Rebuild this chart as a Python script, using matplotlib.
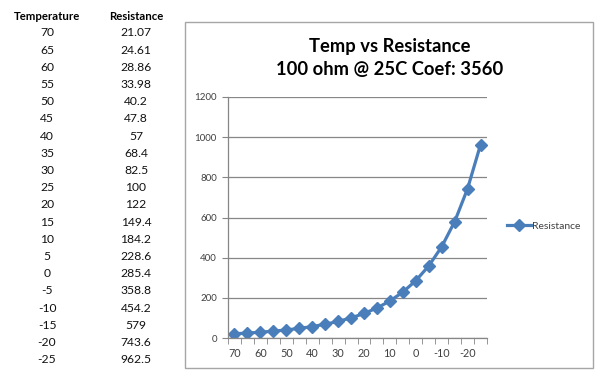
import matplotlib
matplotlib.use("Agg")
import matplotlib.pyplot as plt
from matplotlib.patches import Rectangle

temperature = [70, 65, 60, 55, 50, 45, 40, 35, 30, 25, 20, 15, 10, 5, 0, -5, -10, -15, -20, -25]
resistance_labels = ["21.07", "24.61", "28.86", "33.98", "40.2", "47.8", "57", "68.4", "82.5", "100",
                     "122", "149.4", "184.2", "228.6", "285.4", "358.8", "454.2", "579", "743.6", "962.5"]
resistance = [float(v) for v in resistance_labels]
y_ticks = [0, 200, 400, 600, 800, 1000, 1200]
title = "Temp vs Resistance\n100 ohm @ 25C Coef: 3560"
series_name = "Resistance"

plt.rcParams['font.family'] = ['Lato', 'DejaVu Sans']

W, H = 608, 383
fig = plt.figure(figsize=(W / 100, H / 100), dpi=100)

def fx(px):
    return px / W

def fy(py):
    return 1 - py / H

# Table
fig.text(fx(47), fy(16), "Temperature", ha='center', va='center', fontsize=8.2, fontweight='bold', color='black')
fig.text(fx(136), fy(16), "Resistance", ha='center', va='center', fontsize=8.2, fontweight='bold', color='black')
for i, (t, r) in enumerate(zip(temperature, resistance_labels)):
    yy = 33 + i * 17.2
    fig.text(fx(47), fy(yy), str(t), ha='center', va='center', fontsize=8.7, color='#111111')
    fig.text(fx(136), fy(yy), r, ha='center', va='center', fontsize=8.7, color='#111111')

# Chart border
fig.patches.append(Rectangle((fx(185), fy(368)), fx(593) - fx(185), fy(22) - fy(368),
                             transform=fig.transFigure, fill=False, edgecolor='#A6A6A6', linewidth=1.0))

# Title
fig.text(fx(390), fy(58), title, ha='center', va='center', fontsize=13.2, fontweight='bold',
         color='black', linespacing=1.4)

ax = fig.add_axes([fx(228), fy(338), fx(487) - fx(228), fy(97) - fy(338)])
x = list(range(len(temperature)))
line, = ax.plot(x, resistance, color='#4A7EBB', linewidth=2.3, marker='D', markersize=5.8,
                markerfacecolor='#4A7EBB', markeredgecolor='#4A7EBB', label=series_name)
ax.set_xlim(-0.5, len(temperature) - 0.5)
ax.set_ylim(0, 1200)
ax.set_yticks(y_ticks)
ax.set_yticklabels([str(v) for v in y_ticks])
ax.yaxis.grid(True, color='#868686', linewidth=0.9)
ax.set_axisbelow(True)

ax.set_xticks(x[::2])
ax.set_xticklabels([str(t) for t in temperature[::2]])
ax.set_xticks([i - 0.5 for i in range(len(temperature) + 1)], minor=True)
ax.tick_params(axis='x', which='major', length=0, pad=7, labelsize=7.8, labelcolor='#404040')
ax.tick_params(axis='x', which='minor', length=4, color='#868686', direction='out')
ax.tick_params(axis='y', which='major', length=4, color='#868686', labelsize=7, labelcolor='#404040', pad=4)

for s in ['top', 'right']:
    ax.spines[s].set_visible(False)
for s in ['left', 'bottom']:
    ax.spines[s].set_color('#868686')
    ax.spines[s].set_linewidth(0.9)

fig.legend(handles=[line], loc='center left', bbox_to_anchor=(fx(498), fy(226)),
           bbox_transform=fig.transFigure, frameon=False, fontsize=7.5, handlelength=2.3,
           handletextpad=0.1, labelcolor='#404040')

fig.savefig("out.png", dpi=100, facecolor='white')
